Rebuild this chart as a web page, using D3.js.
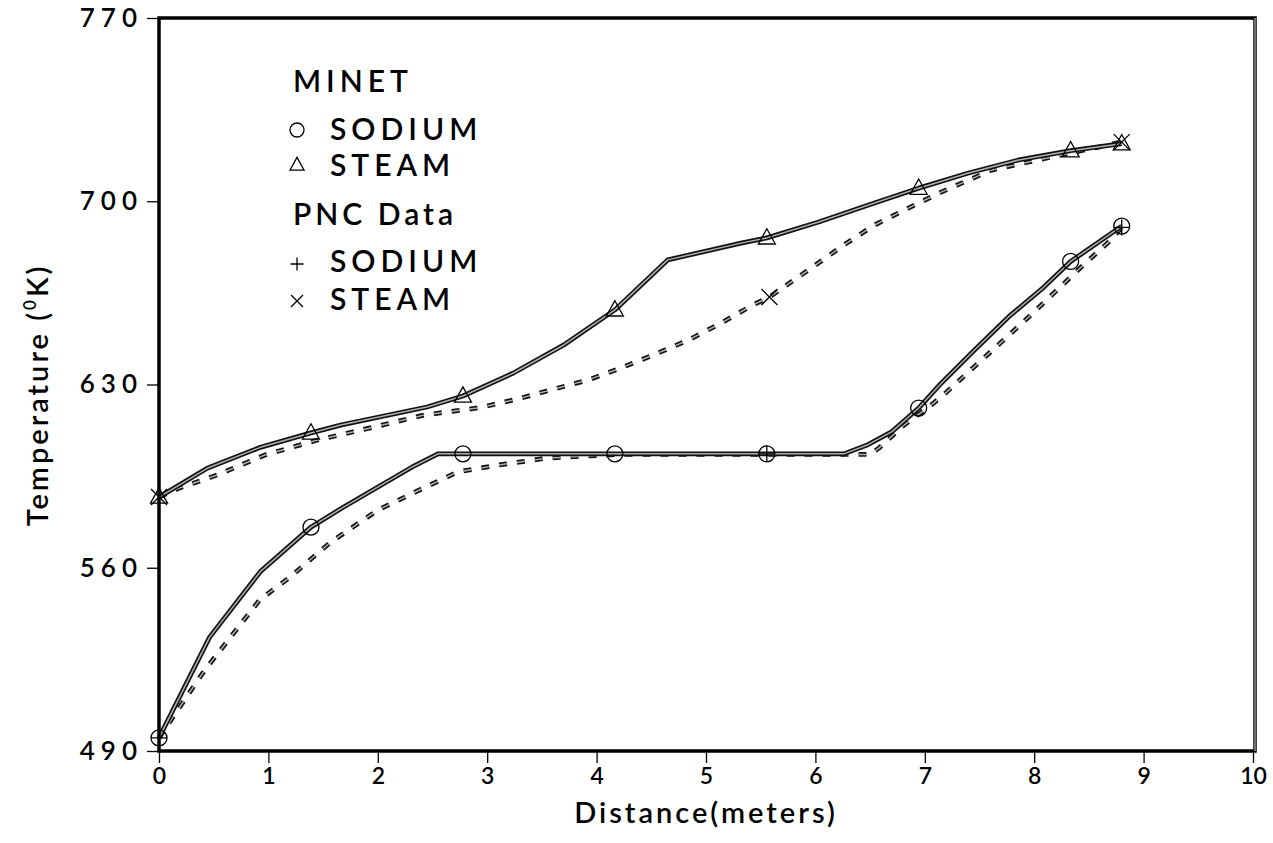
<!DOCTYPE html>
<html>
<head>
<meta charset="utf-8">
<script src="https://cdn.jsdelivr.net/npm/d3@7"></script>
<style>
  body { margin: 0; background: #fff; }
  svg { display: block; }
  text { font-family: Lato, "DejaVu Sans", sans-serif; fill: #000; font-weight: 600; }
</style>
</head>
<body>
<svg id="chart" width="1273" height="843"></svg>
<script>
// Axis ticks
const xTicks = [0, 1, 2, 3, 4, 5, 6, 7, 8, 9, 10];
const yTicks = [490, 560, 630, 700, 770];

// MINET calculation, sodium side: [distance m, temperature K]
const minetSodium = [
  [0, 495], [0.463, 533.5], [0.926, 558.5], [1.389, 575.5], [1.68, 583],
  [2.315, 598.5], [2.55, 603.5], [6.26, 603.5], [6.48, 607], [6.70, 612],
  [6.944, 621], [7.15, 630.5], [7.45, 643], [7.77, 656], [8.07, 666.5],
  [8.333, 677], [8.8, 690.5]
];
// MINET calculation, steam side
const minetSteam = [
  [0, 587], [0.44, 598], [0.926, 606], [1.389, 611.5], [1.66, 614.5],
  [2.45, 621.4], [2.778, 625.6], [3.24, 634.4], [3.70, 645.1], [4.167, 658.5],
  [4.65, 677.6], [5.32, 684], [5.556, 686], [6.03, 692.1], [6.54, 699.3],
  [6.944, 705], [7.40, 710.8], [7.86, 715.8], [8.333, 719.3], [8.8, 722]
];
// PNC curves, sodium side
const pncSodium = [
  [0, 495], [0.22, 508.7], [0.42, 521], [0.72, 537], [0.92, 547.7],
  [1.20, 556.5], [1.57, 569.8], [2.00, 582], [2.42, 590.5], [2.73, 596.6],
  [3.10, 599.2], [3.55, 601.9], [4.20, 603.3], [6.50, 603.3], [6.58, 605.7],
  [6.81, 614.5], [7.08, 622.9], [7.20, 627.1], [7.45, 636.7], [7.70, 646.2],
  [7.95, 655.8], [8.19, 665.3], [8.43, 674.9], [8.68, 684.4], [8.8, 690]
];
// PNC curves, steam side
const pncSteam = [
  [0, 587], [0.19, 590.5], [0.53, 595.4], [0.97, 603.1], [1.45, 608.8],
  [1.93, 613.4], [2.42, 618.3], [2.94, 621.2], [3.28, 624.5], [3.58, 627.9],
  [3.92, 631.7], [4.22, 636.3], [4.52, 641.3], [4.84, 647], [5.14, 653.5],
  [5.43, 660.4], [5.58, 663.4], [5.99, 675.3], [6.26, 683.3], [6.54, 690.9],
  [6.85, 697.4], [7.15, 703.5], [7.61, 711.9], [7.95, 715], [8.25, 717.7],
  [8.59, 720.7], [8.8, 722.6]
];

// Plotted symbols
const minetSodiumMarks = [
  [0, 495], [1.389, 575.5], [2.778, 603.5], [4.167, 603.5], [5.556, 603.5],
  [6.944, 621], [8.333, 677], [8.8, 690.5]
];
const minetSteamMarks = [
  [0, 587], [1.389, 611.5], [2.778, 625.6], [4.167, 658.5], [5.556, 686],
  [6.944, 705], [8.333, 719.3], [8.8, 722]
];
const pncSodiumMarks = [[0, 495], [5.556, 603.5], [8.8, 690]];
const pncSteamMarks = [[0, 587], [5.58, 663.4], [8.8, 722.6]];

const svg = d3.select("#chart");
const plotLeft = 159, plotRight = 1253, plotTop = 18, plotBottom = 751;

const x = d3.scaleLinear().domain([0, 10]).range([plotLeft, plotRight]);
const y = d3.scaleLinear().domain([490, 770]).range([plotBottom, plotTop]);

const line = d3.line().x(d => x(d[0])).y(d => y(d[1]));

// Doubled pen stroke: dark outer edges with a light core
function drawCurve(data, dashed) {
  const g = svg.append("g");
  const dash = dashed ? "8,10" : null;
  g.append("path").attr("d", line(data)).attr("fill", "none")
    .attr("stroke", "#111").attr("stroke-width", 4.8)
    .attr("stroke-dasharray", dash).attr("stroke-linejoin", "round");
  g.append("path").attr("d", line(data)).attr("fill", "none")
    .attr("stroke", "#b0b0b0").attr("stroke-width", 1.5)
    .attr("stroke-dasharray", dash).attr("stroke-linejoin", "round");
}

drawCurve(pncSodium, true);
drawCurve(pncSteam, true);
drawCurve(minetSodium, false);
drawCurve(minetSteam, false);

// Symbols
function circleMark(g, cx, cy, r) {
  g.append("circle").attr("cx", cx).attr("cy", cy).attr("r", r)
    .attr("fill", "none").attr("stroke", "#000").attr("stroke-width", 1.3);
}
function triMark(g, cx, cy, s) {
  const h = s * 0.9;
  g.append("path")
    .attr("d", `M${cx},${cy - h * 0.6} L${cx + s / 2},${cy + h * 0.4} L${cx - s / 2},${cy + h * 0.4} Z`)
    .attr("fill", "none").attr("stroke", "#000").attr("stroke-width", 1.3);
}
function plusMark(g, cx, cy, s) {
  g.append("path")
    .attr("d", `M${cx - s / 2},${cy} H${cx + s / 2} M${cx},${cy - s / 2} V${cy + s / 2}`)
    .attr("stroke", "#000").attr("stroke-width", 1.3);
}
function crossMark(g, cx, cy, s) {
  const h = s / 2;
  g.append("path")
    .attr("d", `M${cx - h},${cy - h} L${cx + h},${cy + h} M${cx - h},${cy + h} L${cx + h},${cy - h}`)
    .attr("stroke", "#000").attr("stroke-width", 1.3);
}

const marks = svg.append("g");
minetSodiumMarks.forEach(d => circleMark(marks, x(d[0]), y(d[1]), 8));
minetSteamMarks.forEach(d => triMark(marks, x(d[0]), y(d[1]), 17));
pncSodiumMarks.forEach(d => plusMark(marks, x(d[0]), y(d[1]), 16));
pncSteamMarks.forEach(d => crossMark(marks, x(d[0]), y(d[1]), 16));

// Frame
svg.append("rect").attr("x", plotLeft).attr("y", plotTop)
  .attr("width", plotRight + 2 - plotLeft).attr("height", plotBottom - plotTop)
  .attr("fill", "none").attr("stroke", "#000").attr("stroke-width", 3.5);
svg.append("line").attr("x1", plotRight + 2).attr("x2", plotRight + 2)
  .attr("y1", plotTop).attr("y2", plotBottom)
  .attr("stroke", "#ddd").attr("stroke-width", 1);

// Axes
const xAxis = d3.axisBottom(x).tickValues(xTicks).tickSize(12).tickPadding(5)
  .tickFormat(d3.format("d"));
const gx = svg.append("g").attr("transform", `translate(0,${plotBottom})`).call(xAxis);
gx.select(".domain").remove();
gx.selectAll(".tick line").attr("stroke", "#000").attr("stroke-width", 1.3);
gx.selectAll(".tick text").attr("font-size", 23)
  .style("font-family", "Lato, 'DejaVu Sans', sans-serif").style("font-weight", 600);

const yAxis = d3.axisLeft(y).tickValues(yTicks).tickSize(12).tickPadding(10)
  .tickFormat(d3.format("d"));
const gy = svg.append("g").attr("transform", `translate(${plotLeft},0)`).call(yAxis);
gy.select(".domain").remove();
gy.selectAll(".tick line").attr("stroke", "#000").attr("stroke-width", 1.3);
gy.selectAll(".tick text").attr("font-size", 26).attr("letter-spacing", 6)
  .attr("dx", 6)
  .style("font-family", "Lato, 'DejaVu Sans', sans-serif").style("font-weight", 600);

// Axis titles
svg.append("text").attr("x", 706).attr("y", 823).attr("text-anchor", "middle")
  .attr("font-size", 29).attr("letter-spacing", 3).text("Distance(meters)");

const yt = svg.append("text")
  .attr("transform", "translate(48,395) rotate(-90)")
  .attr("text-anchor", "middle").attr("font-size", 29).attr("letter-spacing", 3);
yt.append("tspan").text("Temperature  (");
yt.append("tspan").attr("font-size", 17).attr("dy", -12).text("0");
yt.append("tspan").attr("dy", 12).text("K)");

// Legend
const lg = svg.append("g");
const legendFont = 30;
lg.append("text").attr("x", 293).attr("y", 92).attr("font-size", legendFont)
  .attr("letter-spacing", 5).text("MINET");
circleMark(lg, 297, 130, 7);
lg.append("text").attr("x", 330).attr("y", 140).attr("font-size", legendFont)
  .attr("letter-spacing", 5).text("SODIUM");
triMark(lg, 297, 165, 14);
lg.append("text").attr("x", 330).attr("y", 176).attr("font-size", legendFont)
  .attr("letter-spacing", 5).text("STEAM");
lg.append("text").attr("x", 293).attr("y", 225).attr("font-size", legendFont)
  .attr("letter-spacing", 4).text("PNC  Data");
plusMark(lg, 297, 264, 13);
lg.append("text").attr("x", 330).attr("y", 272).attr("font-size", legendFont)
  .attr("letter-spacing", 5).text("SODIUM");
crossMark(lg, 297, 301, 12);
lg.append("text").attr("x", 330).attr("y", 310).attr("font-size", legendFont)
  .attr("letter-spacing", 5).text("STEAM");
</script>
</body>
</html>
